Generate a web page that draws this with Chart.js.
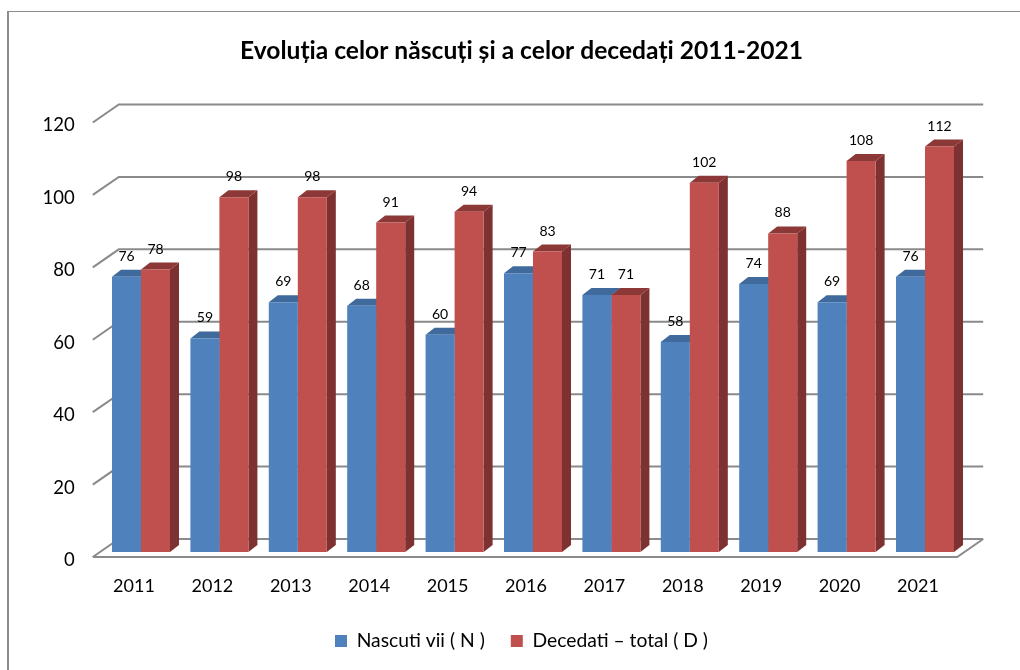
<!DOCTYPE html>
<html lang="ro">
<head>
    <meta charset="UTF-8">
    <title>Evoluția celor născuți și a celor decedați</title>
    <script src="https://cdn.jsdelivr.net/npm/chart.js"></script>
    <style>
        html, body { margin: 0; padding: 0; background: #fff; }
        #wrap { position: relative; width: 1020px; height: 670px; overflow: hidden; }
        #frame { position: absolute; left: 7px; top: 11px; width: 1020px; height: 700px; border-left: 2px solid #8c8c8c; border-top: 1px solid #8c8c8c; }
        canvas { position: absolute; left: 0; top: 0; }
    </style>
</head>
<body>
<div id="wrap">
    <div id="frame"></div>
    <canvas id="chart" width="1020" height="670"></canvas>
</div>
<script>
    const years = ['2011', '2012', '2013', '2014', '2015', '2016', '2017', '2018', '2019', '2020', '2021'];
    const nascuti = [76, 59, 69, 68, 60, 77, 71, 58, 74, 69, 76];
    const decedati = [78, 98, 98, 91, 94, 83, 71, 102, 88, 108, 112];

    // depth of the fake 3d box
    const barDepthX = 9, barDepthY = 7;
    // title and legend sit right of the plot centre in the original
    const headShift = 39.4;

    const box3d = {
        id: 'box3d',
        afterLayout(chart) {
            [chart.titleBlock, chart.legend].forEach(b => {
                b.left += headShift;
                b.right += headShift;
            });
        },
        beforeDatasetsDraw(chart) {
            const ctx = chart.ctx, y = chart.scales.y, area = chart.chartArea;
            const left = area.left - 9, right = area.right + 19;
            ctx.save();
            // back wall lines and left wall diagonals
            ctx.strokeStyle = '#8a8a8a';
            ctx.lineWidth = 2;
            y.ticks.forEach(t => {
                const p = y.getPixelForValue(t.value);
                ctx.beginPath();
                ctx.moveTo(left, p + 5);
                ctx.lineTo(left + 26, p - 13);
                ctx.lineTo(right, p - 13);
                ctx.stroke();
            });
            // floor
            const p0 = y.getPixelForValue(0);
            ctx.beginPath();
            ctx.moveTo(left, p0 + 5);
            ctx.lineTo(right - 26, p0 + 5);
            ctx.lineTo(right, p0 - 13);
            ctx.stroke();
            // bar sides and tops
            chart.data.datasets.forEach((ds, i) => {
                chart.getDatasetMeta(i).data.forEach(bar => {
                    const r = bar.x + bar.width / 2, l = bar.x - bar.width / 2;
                    ctx.fillStyle = ds.sideColor;
                    ctx.beginPath();
                    ctx.moveTo(r, bar.y);
                    ctx.lineTo(r + barDepthX, bar.y - barDepthY);
                    ctx.lineTo(r + barDepthX, bar.base - barDepthY);
                    ctx.lineTo(r, bar.base);
                    ctx.fill();
                    ctx.fillStyle = ds.topColor;
                    ctx.beginPath();
                    ctx.moveTo(l, bar.y);
                    ctx.lineTo(l + barDepthX, bar.y - barDepthY);
                    ctx.lineTo(r + barDepthX, bar.y - barDepthY);
                    ctx.lineTo(r, bar.y);
                    ctx.fill();
                });
            });
            ctx.restore();
        },
        afterDatasetsDraw(chart) {
            const ctx = chart.ctx;
            ctx.save();
            ctx.font = '14px Lato';
            ctx.fillStyle = '#000';
            ctx.textAlign = 'center';
            ctx.textBaseline = 'middle';
            chart.data.datasets.forEach((ds, i) => {
                chart.getDatasetMeta(i).data.forEach((bar, j) => {
                    ctx.fillText(ds.data[j], bar.x, bar.y - 20.5);
                });
            });
            ctx.restore();
        }
    };

    new Chart(document.getElementById('chart'), {
        type: 'bar',
        data: {
            labels: years,
            datasets: [
                { label: 'Nascuti vii ( N )', data: nascuti, backgroundColor: '#4f81bd', topColor: '#3f6a9b', sideColor: '#37608f' },
                { label: 'Decedati – total ( D )', data: decedati, backgroundColor: '#c0504d', topColor: '#8c3836', sideColor: '#7d3130' }
            ]
        },
        options: {
            responsive: false,
            animation: false,
            layout: { padding: { top: 0, right: 55.8, bottom: 9.35, left: 0 } },
            categoryPercentage: 0.74,
            barPercentage: 1,
            plugins: {
                tooltip: { enabled: false },
                title: {
                    display: true,
                    text: 'Evoluția celor născuți și a celor decedați 2011-2021',
                    color: '#000',
                    font: { family: 'Lato', size: 24.6, weight: 'bold' },
                    padding: { top: 36.5, bottom: 51.5 }
                },
                legend: {
                    position: 'bottom',
                    labels: {
                        color: '#000',
                        font: { family: 'Lato', size: 19.3 },
                        boxWidth: 12,
                        boxHeight: 12,
                        padding: 26
                    }
                }
            },
            scales: {
                x: {
                    grid: { display: false, drawTicks: false },
                    border: { display: false },
                    ticks: { color: '#000', font: { family: 'Lato', size: 18 }, labelOffset: -7, padding: 23, maxRotation: 0 },
                    afterFit(s) { s.height = 53.35; }
                },
                y: {
                    min: 0,
                    max: 120,
                    grid: { display: false, drawTicks: false },
                    border: { display: false },
                    ticks: { color: '#000', font: { family: 'Lato', size: 18.5 }, stepSize: 20, labelOffset: 8, padding: 27 },
                    afterFit(s) { s.width = 101.8; }
                }
            }
        },
        plugins: [box3d]
    });
</script>
</body>
</html>
